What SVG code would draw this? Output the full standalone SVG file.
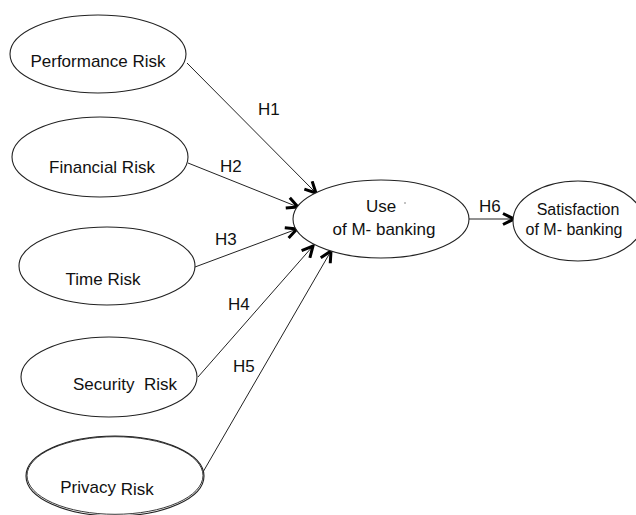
<svg xmlns="http://www.w3.org/2000/svg" width="636" height="515" viewBox="0 0 636 515">
<style>
.n{fill:#fff;stroke:#222;stroke-width:1.1}
.t{font-family:"Liberation Sans",Arial,sans-serif;font-size:17px;fill:#111;text-anchor:middle}
.l{font-family:"Liberation Sans",Arial,sans-serif;font-size:17px;fill:#111}
.c{stroke:#222;stroke-width:1;fill:none;marker-end:url(#ah)}
</style>
<defs>
<marker id="ah" viewBox="0 0 14 14" refX="12.5" refY="7" markerWidth="14" markerHeight="14" markerUnits="userSpaceOnUse" orient="auto">
<path d="M1.5,1.5 L12.5,7 L1.5,12.5" fill="none" stroke="#000" stroke-width="3"/>
</marker>
</defs>
<rect width="636" height="515" fill="#fff"/>
<g id="connectors">
<line class="c" x1="187" y1="63" x2="316" y2="193"/>
<line class="c" x1="188" y1="163" x2="298" y2="207"/>
<line class="c" x1="195" y1="267" x2="297" y2="229"/>
<line class="c" x1="198" y1="377" x2="313" y2="246"/>
<line class="c" x1="203" y1="472" x2="331" y2="251"/>
<line class="c" x1="469" y1="219" x2="514" y2="219"/>
<text class="l" x="258" y="115">H1</text>
<text class="l" x="220" y="172">H2</text>
<text class="l" x="215" y="245">H3</text>
<text class="l" x="228" y="310">H4</text>
<text class="l" x="233" y="372">H5</text>
<text class="l" x="479" y="212">H6</text>
</g>
<g id="performance-risk">
<ellipse class="n" cx="98" cy="54" rx="88" ry="39"/>
<text class="t" x="98" y="67">Performance Risk</text>
</g>
<g id="financial-risk">
<ellipse class="n" cx="100" cy="157" rx="88" ry="40"/>
<text class="t" x="102" y="173">Financial Risk</text>
</g>
<g id="time-risk">
<ellipse class="n" cx="107" cy="266" rx="88" ry="39"/>
<text class="t" x="103" y="285">Time Risk</text>
</g>
<g id="security-risk">
<ellipse class="n" cx="109" cy="377" rx="88" ry="40"/>
<text class="t" x="125" y="390" xml:space="preserve">Security  Risk</text>
</g>
<g id="privacy-risk">
<ellipse class="n" cx="115" cy="476" rx="89" ry="40" stroke-width="1.3"/>
<ellipse cx="115" cy="475.5" rx="88" ry="38.8" fill="none" stroke="#222" stroke-width="0.9"/>
<text class="t" x="107" y="493">Privacy <tspan dy="2">Risk</tspan></text>
</g>
<g id="use-m-banking">
<ellipse class="n" cx="381" cy="219" rx="88" ry="39"/>
<text class="t" x="381" y="212">Use</text>
<circle cx="405" cy="203" r="0.8" fill="#777"/>
<text class="t" x="384" y="235">of M- banking</text>
</g>
<g id="satisfaction-m-banking">
<ellipse class="n" cx="578" cy="221" rx="65" ry="40"/>
<text class="t" x="578" y="215" style="font-size:16px">Satisfaction</text>
<text class="t" x="574" y="235" style="font-size:16px">of M- banking</text>
</g>
</svg>
